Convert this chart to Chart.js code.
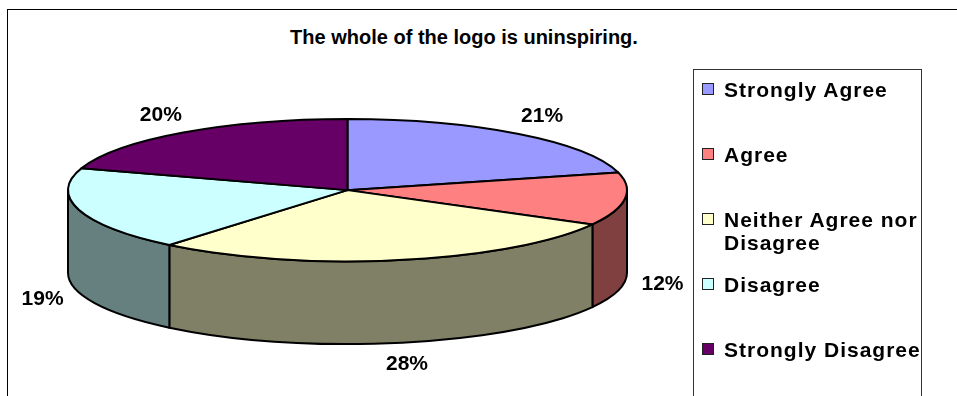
<!DOCTYPE html>
<html>
<head>
<meta charset="utf-8">
<script src="https://cdn.jsdelivr.net/npm/chart.js@4/dist/chart.umd.min.js"></script>
<style>
  html, body { margin: 0; padding: 0; background: #fff; }
  #wrap { position: relative; width: 957px; height: 396px; overflow: hidden;
          font-family: Arial, "Liberation Sans", sans-serif; font-weight: bold; color: #000; }
  #frame { position: absolute; left: 7px; top: 9px; right: -2px; bottom: -2px;
           border-left: 1px solid #000; border-top: 1px solid #000; }
  #title { position: absolute; left: 0; width: 928px; top: 25px; line-height: 24px;
           font-size: 20px; text-align: center; }
  #legend { position: absolute; left: 693px; top: 69px; width: 227px; height: 340px;
            border: 1px solid #333; background: #fff; }
  .item { position: absolute; left: 8px; width: 240px; font-size: 21px; line-height: 23px;
          letter-spacing: 1px; }
  .item .box { position: absolute; left: 0; top: 5px; width: 10px; height: 10px;
               border: 1px solid #222; }
  .item .txt { display: block; margin-left: 22px; }
  canvas { position: absolute; left: 0; top: 0; }
</style>
</head>
<body>
<div id="wrap">
  <div id="frame"></div>
  <div id="title">The whole of the logo is uninspiring.</div>
  <canvas id="pie" width="957" height="396"></canvas>
  <div id="legend"></div>
</div>
<script>
// responses, in percent
const categories = ['Strongly Agree', 'Agree', 'Neither Agree nor Disagree', 'Disagree', 'Strongly Disagree'];
const percents = [21, 12, 28, 19, 20];

// top faces and the darker side walls
const topColors = ['#9999FF', '#FF8080', '#FFFFCC', '#CCFFFF', '#660066'];
const sideColors = ['#4D4D80', '#804040', '#808066', '#668080', '#330033'];

const TILT = 71 / 279;   // ellipse height / width
const LEGEND_STEP = 65;  // legend slot height

// flattened 3D pie: walls + tilted top drawn from the arc elements
const pie3d = {
  id: 'pie3d',
  beforeDatasetsDraw(chart) {
    const ctx = chart.ctx;
    const ca = chart.chartArea;
    const arcs = chart.getDatasetMeta(0).data;
    const cx = (ca.left + ca.right) / 2;
    const rx = (ca.right - ca.left) / 2;
    const ry = rx * TILT;
    const cy = ca.top + ry;
    const depth = ca.bottom - ca.top - 2 * ry;

    ctx.save();
    ctx.lineWidth = 2;
    ctx.strokeStyle = '#000';
    ctx.lineJoin = 'round';

    // front walls (only the part facing the viewer, angles 0..PI)
    arcs.forEach((arc, i) => {
      const a0 = Math.max(arc.startAngle, 0);
      const a1 = Math.min(arc.endAngle, Math.PI);
      if (a1 <= a0) return;
      ctx.beginPath();
      ctx.ellipse(cx, cy, rx, ry, 0, a0, a1);
      ctx.lineTo(cx + rx * Math.cos(a1), cy + depth + ry * Math.sin(a1));
      ctx.ellipse(cx, cy + depth, rx, ry, 0, a1, a0, true);
      ctx.closePath();
      ctx.fillStyle = sideColors[i];
      ctx.fill();
      ctx.stroke();
    });

    // top faces
    arcs.forEach((arc, i) => {
      ctx.beginPath();
      ctx.moveTo(cx, cy);
      ctx.ellipse(cx, cy, rx, ry, 0, arc.startAngle, arc.endAngle);
      ctx.closePath();
      ctx.fillStyle = topColors[i];
      ctx.fill();
      ctx.stroke();
    });

    // percentage labels outside the rim, pushed below the wall on the front half
    const total = percents.reduce((a, b) => a + b, 0);
    ctx.font = 'bold 21px Arial, "Liberation Sans", sans-serif';
    ctx.fillStyle = '#000';
    ctx.textAlign = 'center';
    ctx.textBaseline = 'middle';
    arcs.forEach((arc, i) => {
      const mid = (arc.startAngle + arc.endAngle) / 2;
      const s = Math.sin(mid);
      const x = cx + Math.cos(mid) * (rx + 38);
      const y = cy + s * (ry + 22) + (s > 0 ? depth : 0);
      ctx.fillText(Math.round(percents[i] / total * 100) + '%', x, y);
    });
    ctx.restore();
    return false;
  }
};

new Chart(document.getElementById('pie').getContext('2d'), {
  type: 'pie',
  data: {
    labels: categories,
    datasets: [{ data: percents, backgroundColor: topColors, borderColor: '#000', borderWidth: 2 }]
  },
  options: {
    responsive: false,
    animation: false,
    devicePixelRatio: 1,
    layout: { padding: { left: 68, right: 330, top: 119, bottom: 52 } },
    plugins: { legend: { display: false }, title: { display: false }, tooltip: { enabled: false } }
  },
  plugins: [pie3d]
});

// legend on the right
const legend = document.getElementById('legend');
categories.forEach((name, i) => {
  const item = document.createElement('div');
  item.className = 'item';
  item.style.top = (8 + i * LEGEND_STEP) + 'px';
  item.innerHTML = '<span class="box"></span><span class="txt"></span>';
  item.querySelector('.box').style.background = topColors[i];
  item.querySelector('.txt').textContent = name;
  legend.appendChild(item);
});
</script>
</body>
</html>
